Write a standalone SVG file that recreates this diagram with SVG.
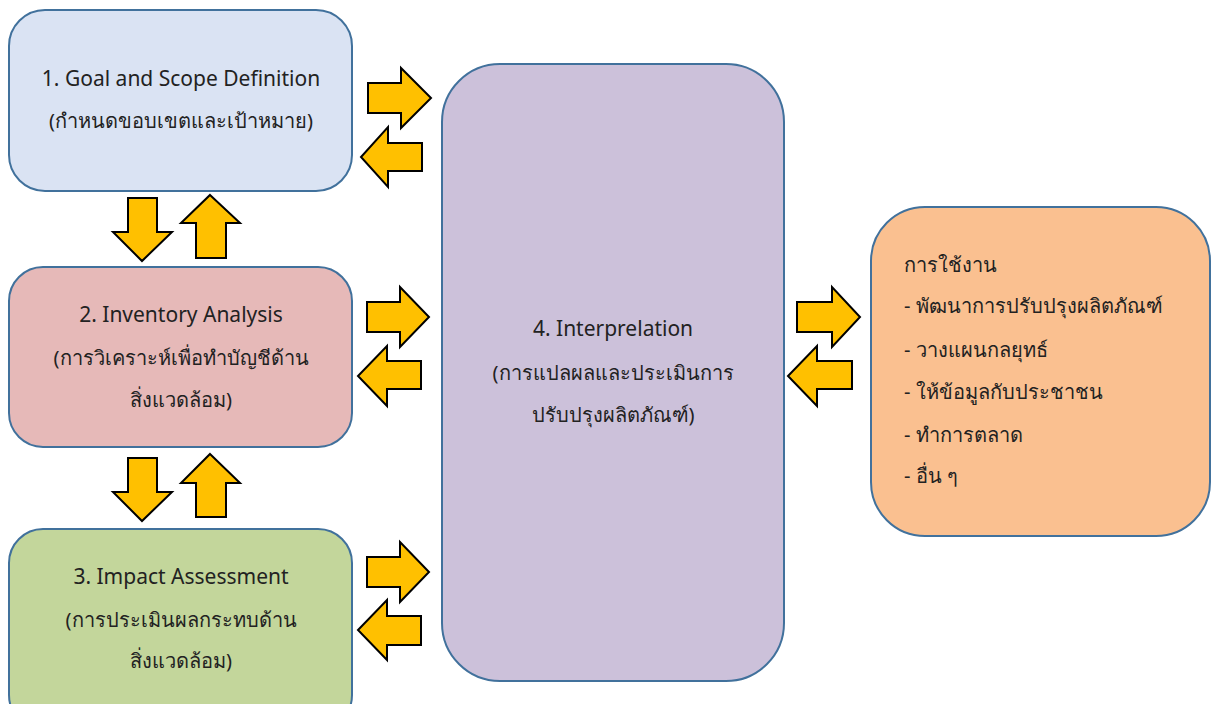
<svg xmlns="http://www.w3.org/2000/svg" width="1216" height="704" viewBox="0 0 1216 704">
<style>
.box{stroke:#41719c;stroke-width:2}
.arr{fill:#ffc000;stroke:#000;stroke-width:2;stroke-linejoin:miter}
text{font-family:"Noto Sans","Liberation Sans",sans-serif;font-size:20px;fill:#222}
.c{text-anchor:middle}
.en{font-size:21px}
</style>
<rect width="1216" height="704" fill="#fff"/>
<g id="node1">
<rect class="box" x="9" y="10" width="343" height="181" rx="36" fill="#dae3f3"/>
<text class="c en" x="181" y="86">1. Goal and Scope Definition</text>
<text class="c" x="181" y="128">(กำหนดขอบเขตและเป้าหมาย)</text>
</g>
<g id="node2">
<rect class="box" x="9" y="267" width="343" height="180" rx="34" fill="#e6b9b8"/>
<text class="c en" x="181" y="322">2. Inventory Analysis</text>
<text class="c" x="181" y="365">(การวิเคราะห์เพื่อทำบัญชีด้าน</text>
<text class="c" x="181" y="407">สิ่งแวดล้อม)</text>
</g>
<g id="node3">
<rect class="box" x="9" y="529" width="343" height="200" rx="34" fill="#c3d69b"/>
<text class="c en" x="181" y="584">3. Impact Assessment</text>
<text class="c" x="181" y="627">(การประเมินผลกระทบด้าน</text>
<text class="c" x="181" y="668">สิ่งแวดล้อม)</text>
</g>
<g id="node4">
<rect class="box" x="442" y="64" width="342" height="617" rx="58" fill="#ccc1da"/>
<text class="c en" x="613" y="336">4. Interprelation</text>
<text class="c" x="613" y="380">(การแปลผลและประเมินการ</text>
<text class="c" x="613" y="422">ปรับปรุงผลิตภัณฑ์)</text>
</g>
<g id="node5">
<rect class="box" x="871" y="207" width="339" height="329" rx="54" fill="#fac090"/>
<text x="904" y="272">การใช้งาน</text>
<text x="904" y="313">- พัฒนาการปรับปรุงผลิตภัณฑ์</text>
<text x="904" y="357">- วางแผนกลยุทธ์</text>
<text x="904" y="399">- ให้ข้อมูลกับประชาชน</text>
<text x="904" y="442">- ทำการตลาด</text>
<text x="904" y="483">- อื่น ๆ</text>
</g>
<g id="connectors">
<polygon class="arr" points="368,83 401,83 401,68 431,98 401,128 401,113 368,113"/>
<polygon class="arr" points="422,143 388,143 388,127 361,157 388,187 388,171 422,171"/>
<polygon class="arr" points="367,302 400,302 400,287 429,317 400,347 400,332 367,332"/>
<polygon class="arr" points="421,361 387,361 387,346 358,376 387,406 387,389 421,389"/>
<polygon class="arr" points="367,557 400,557 400,542 429,572 400,602 400,587 367,587"/>
<polygon class="arr" points="421,616 387,616 387,600 358,630 387,660 387,645 421,645"/>
<polygon class="arr" points="797,302 832,302 832,287 860,317 832,347 832,332 797,332"/>
<polygon class="arr" points="852,361 817,361 817,346 788,376 817,406 817,389 852,389"/>
<polygon class="arr" points="128,198 157,198 157,232 172,232 142,261 113,232 128,232"/>
<polygon class="arr" points="210,195 240,223 226,223 226,258 196,258 196,223 181,223"/>
<polygon class="arr" points="128,458 157,458 157,492 172,492 142,521 113,492 128,492"/>
<polygon class="arr" points="210,454 240,483 226,483 226,517 196,517 196,483 181,483"/>
</g>
</svg>
